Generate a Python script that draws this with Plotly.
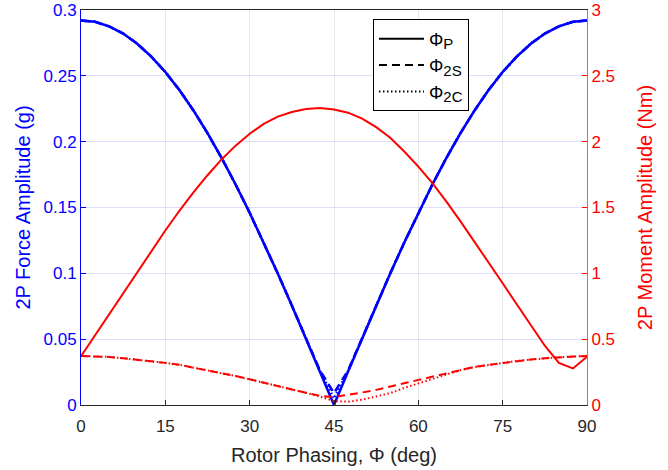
import plotly.graph_objects as go

# Rotor phasing (deg)
phase = [0, 2.5, 5, 7.5, 10, 12.5, 15, 17.5, 20, 22.5, 25, 27.5, 30, 32.5, 35, 37.5, 40, 42.5,
         45, 47.5, 50, 52.5, 55, 57.5, 60, 62.5, 65, 67.5, 70, 72.5, 75, 77.5, 80, 82.5, 85, 87.5, 90]

# 2P force amplitude (g) - left axis
force_P = [0.292, 0.291, 0.2876, 0.2821, 0.2744, 0.2646, 0.2529, 0.2392, 0.2237, 0.2065, 0.1877,
           0.1675, 0.146, 0.1234, 0.0999, 0.0756, 0.0507, 0.0255, 0.0,
           0.0255, 0.0507, 0.0756, 0.0999, 0.1234, 0.146, 0.1675, 0.1877, 0.2065, 0.2237, 0.2392,
           0.2529, 0.2646, 0.2744, 0.2821, 0.2876, 0.291, 0.292]
force_2S = [0.292, 0.291, 0.2876, 0.2821, 0.2744, 0.2646, 0.2529, 0.2392, 0.2237, 0.2065, 0.1877,
            0.1675, 0.146, 0.1234, 0.0999, 0.0756, 0.0507, 0.0262, 0.009,
            0.0262, 0.0507, 0.0756, 0.0999, 0.1234, 0.146, 0.1675, 0.1877, 0.2065, 0.2237, 0.2392,
            0.2529, 0.2646, 0.2744, 0.2821, 0.2876, 0.291, 0.292]
force_2C = [0.292, 0.291, 0.2876, 0.2821, 0.2744, 0.2646, 0.2529, 0.2392, 0.2237, 0.2065, 0.1877,
            0.1675, 0.146, 0.1234, 0.0999, 0.0756, 0.0507, 0.0258, 0.005,
            0.0258, 0.0507, 0.0756, 0.0999, 0.1234, 0.146, 0.1675, 0.1877, 0.2065, 0.2237, 0.2392,
            0.2529, 0.2646, 0.2744, 0.2821, 0.2876, 0.291, 0.292]

# 2P moment amplitude (Nm) - right axis
moment_P = [0.37, 0.53, 0.69, 0.85, 1.01, 1.17, 1.325, 1.475, 1.615, 1.745, 1.865, 1.97, 2.06,
            2.135, 2.19, 2.225, 2.248, 2.255, 2.245, 2.22, 2.175, 2.11, 2.03, 1.925, 1.81, 1.685,
            1.545, 1.395, 1.24, 1.083, 0.925, 0.765, 0.605, 0.45, 0.32, 0.278, 0.367]
moment_2S = [0.372, 0.37, 0.365, 0.355, 0.345, 0.333, 0.32, 0.305, 0.285, 0.265, 0.243, 0.22,
             0.195, 0.168, 0.142, 0.118, 0.093, 0.07, 0.06, 0.075, 0.095, 0.115, 0.14, 0.168,
             0.195, 0.22, 0.245, 0.27, 0.29, 0.305, 0.32, 0.335, 0.345, 0.355, 0.363, 0.368, 0.372]
moment_2C = [0.372, 0.37, 0.365, 0.355, 0.345, 0.333, 0.32, 0.305, 0.285, 0.265, 0.243, 0.22,
             0.195, 0.168, 0.142, 0.118, 0.093, 0.065, 0.03, 0.025, 0.04, 0.063, 0.09, 0.13,
             0.165, 0.2, 0.235, 0.265, 0.288, 0.305, 0.32, 0.335, 0.345, 0.355, 0.363, 0.368, 0.372]

x_ticks = [0, 15, 30, 45, 60, 75, 90]
left_ticks = [0, 0.05, 0.1, 0.15, 0.2, 0.25, 0.3]
left_labels = ["0", "0.05", "0.1", "0.15", "0.2", "0.25", "0.3"]
right_ticks = [0, 0.5, 1, 1.5, 2, 2.5, 3]
right_labels = ["0", "0.5", "1", "1.5", "2", "2.5", "3"]
legend_subs = ["P", "2S", "2C"]

BLUE = "#0000ff"
RED = "#ff0000"
DARK = "#262626"
DASH = "8px,5px"
DOT = "1.5px,2.5px"
FONT = "Liberation Sans, Arial, sans-serif"

fig = go.Figure()

for ys, d in [(force_P, "solid"), (force_2S, DASH), (force_2C, DOT)]:
    fig.add_trace(go.Scatter(x=phase, y=ys, mode="lines", yaxis="y",
                             line=dict(color=BLUE, width=2.5, dash=d), showlegend=False))
for ys, d in [(moment_P, "solid"), (moment_2S, DASH), (moment_2C, DOT)]:
    fig.add_trace(go.Scatter(x=phase, y=ys, mode="lines", yaxis="y2",
                             line=dict(color=RED, width=2, dash=d), showlegend=False))
for sub, d in zip(legend_subs, ["solid", DASH, DOT]):
    fig.add_trace(go.Scatter(x=[None], y=[None], mode="lines",
                             name=f"Φ<sub><span style='font-size:15px'>{sub}</span></sub>",
                             line=dict(color="black", width=2, dash=d), showlegend=True))

fig.update_layout(
    width=668, height=470,
    margin=dict(l=81, r=81, t=10, b=65, autoexpand=False),
    paper_bgcolor="white", plot_bgcolor="white",
    font=dict(family=FONT, size=17, color=DARK),
    xaxis=dict(range=[0, 90], tickvals=x_ticks, ticktext=[str(v) for v in x_ticks],
               showgrid=True, gridcolor="rgba(0,0,0,0.09)", gridwidth=1, automargin=False,
               zeroline=False, showline=True, linecolor=DARK, linewidth=1, mirror=True,
               ticks="inside", ticklen=5, tickcolor=DARK, ticklabelstandoff=6,
               tickfont=dict(size=17, color=DARK),
               title=dict(text="Rotor Phasing, Φ (deg)", font=dict(size=20, color=DARK), standoff=12)),
    yaxis=dict(range=[0, 0.3], tickvals=left_ticks, ticktext=left_labels, automargin=False,
               showgrid=True, gridcolor="rgba(0,0,255,0.13)", gridwidth=1,
               zeroline=False, showline=True, linecolor=BLUE, linewidth=1,
               ticks="inside", ticklen=5, tickcolor=BLUE,
               tickfont=dict(size=17, color=BLUE),
               title=dict(text="2P Force Amplitude (g)", font=dict(size=20, color=BLUE), standoff=7)),
    yaxis2=dict(range=[0, 3], tickvals=right_ticks, ticktext=right_labels, automargin=False,
                overlaying="y", side="right", showgrid=False,
                zeroline=False, showline=True, linecolor="rgb(255,90,90)", linewidth=1,
                ticks="inside", ticklen=5, tickcolor=RED,
                tickfont=dict(size=17, color=RED),
                title=dict(text="2P Moment Amplitude (Nm)", font=dict(size=20, color=RED), standoff=23)),
    legend=dict(x=0.577, y=0.976, xanchor="left", yanchor="top", itemwidth=45,
                bgcolor="white", bordercolor="black", borderwidth=1,
                font=dict(size=18, color="black"), tracegroupgap=0),
    showlegend=True,
)

fig.write_html("out.html")
